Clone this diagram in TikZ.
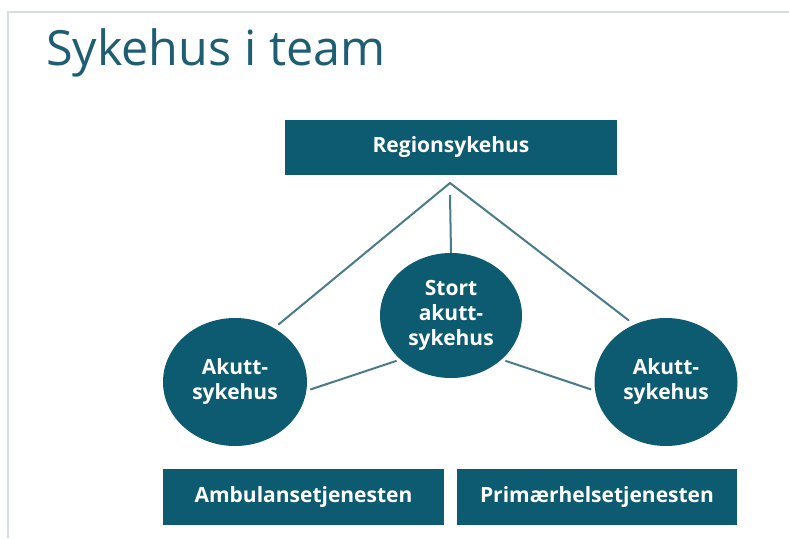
\documentclass[tikz,border=0pt]{standalone}
\usepackage{fontspec}
\setmainfont{Open Sans}
\usetikzlibrary{shapes.geometric}
\definecolor{teal}{HTML}{0C5B70}
\definecolor{titleteal}{HTML}{1D5E72}
\definecolor{linkcol}{HTML}{4A7B8B}
\definecolor{framecol}{HTML}{D6DCE6}
\tikzset{
  unitbox/.style={rectangle,fill=teal,text=white,font=\bfseries\fontsize{21}{25}\selectfont,inner sep=0pt},
  unitcirc/.style={ellipse,fill=teal,text=white,font=\bfseries\fontsize{21}{25}\selectfont,align=center,inner sep=0pt},
  link/.style={draw=linkcol,line width=2pt}
}
\begin{document}
\begin{tikzpicture}[x=1pt,y=-1pt]
\fill[white] (0,0) rectangle (789,538);
\useasboundingbox (0,0) rectangle (789,538);
\draw[framecol,line width=2pt] (8,538) -- (8,12) -- (789,12);
\node[anchor=base west,text=titleteal,font=\fontsize{48.5}{52}\selectfont,inner sep=0pt] (title) at (46,65) {Sykehus i team};
% boxes
\node[unitbox,minimum width=332pt,minimum height=55pt] (region) at (451,147) {Regionsykehus};
\node[unitbox,minimum width=281pt,minimum height=56pt] (amb) at (303.5,497) {Ambulansetjenesten};
\node[unitbox,minimum width=280pt,minimum height=56pt] (prim) at (597,497) {Primærhelsetjenesten};
% circles
\node[unitcirc,minimum width=142pt,minimum height=125pt] (stort) at (451,315.5) {Stort\\akutt-\\sykehus};
\node[unitcirc,minimum width=144pt,minimum height=128pt] (lh) at (235,382) {Akutt-\\sykehus};
\node[unitcirc,minimum width=143pt,minimum height=128pt] (rh) at (666,382) {Akutt-\\sykehus};
\coordinate (apex) at (450,183);
\coordinate (stem) at (450,195);
% connectors
\draw[link,line cap=round,shorten >=6pt] (apex) -- (lh.54.6);
\draw[link,line cap=round,shorten >=7pt] (apex) -- (rh.119.7);
\draw[link] (stem) -- (stort.north);
\draw[link,shorten <=4pt,shorten >=4pt] (stort.221) -- (lh.-7);
\draw[link,shorten <=4pt,shorten >=4pt] (stort.-41) -- (rh.187);
\end{tikzpicture}
\end{document}
